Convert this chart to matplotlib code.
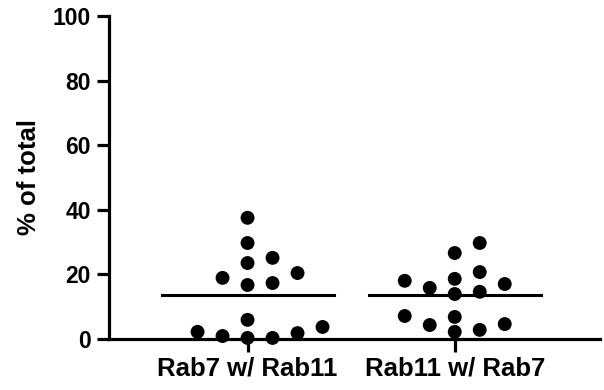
import numpy as np
import matplotlib.pyplot as plt

plt.rcParams['font.family'] = ['Liberation Sans', 'DejaVu Sans']
plt.rcParams['font.weight'] = 'bold'
plt.rcParams['axes.labelweight'] = 'bold'

groups = ['Rab7 w/ Rab11', 'Rab11 w/ Rab7']
rab7_w_rab11 = [37.5, 29.7, 25.1, 23.5, 20.4, 18.9, 17.3, 16.7, 5.9, 3.7, 2.2, 1.8, 0.9, 0.3, 0.3]
rab11_w_rab7 = [29.7, 26.6, 20.7, 18.6, 18.0, 17.0, 15.8, 14.6, 13.9, 7.1, 6.8, 4.6, 4.3, 2.8, 2.2]
yticks = [0, 20, 40, 60, 80, 100]

fig = plt.figure(figsize=(6.04, 3.90), dpi=100)
ax = fig.add_axes([0.180, 0.131, 0.813, 0.828])
ax.set_xlim(-0.67, 1.70)
ax.set_ylim(0, 100)

# pixels per data unit, used to lay the dots out like a prism scatter
bbox = ax.get_window_extent()
xscale = bbox.width / 2.37
yscale = bbox.height / 100.0


def swarm(vals, slot=25.0, rowh=14.0):
    vals = np.asarray(vals)
    placed = []
    offs = np.zeros(len(vals))
    steps = [0] + [s * k for k in range(1, 20) for s in (1, -1)]
    for i in np.argsort(vals, kind='stable'):
        y = vals[i] * yscale
        for k in steps:
            x = k * slot / 2
            if all(abs(x - px) >= slot or abs(y - py) >= rowh for px, py in placed):
                break
        placed.append((x, y))
        offs[i] = x / xscale
    return offs


for i, vals in enumerate([rab7_w_rab11, rab11_w_rab7]):
    xs = i + swarm(vals)
    ax.scatter(xs, vals, s=100, color='black', edgecolor='none', zorder=3, clip_on=False)
    m = np.mean(vals)
    ax.plot([i - 0.415, i + 0.415], [m, m], color='black', lw=2.2, zorder=2)

ax.set_xticks([0, 1])
ax.set_xticklabels(groups, fontsize=18.5)
ax.set_yticks(yticks)
ax.set_yticklabels([str(t) for t in yticks], fontsize=16.5)
ax.set_ylabel('% of total', fontsize=18.5, fontweight='bold', labelpad=8)

for s in ['top', 'right']:
    ax.spines[s].set_visible(False)
for s in ['left', 'bottom']:
    ax.spines[s].set_linewidth(2.3)
ax.tick_params(width=2.3, length=9, pad=4)

fig.savefig('out.png', dpi=100)
